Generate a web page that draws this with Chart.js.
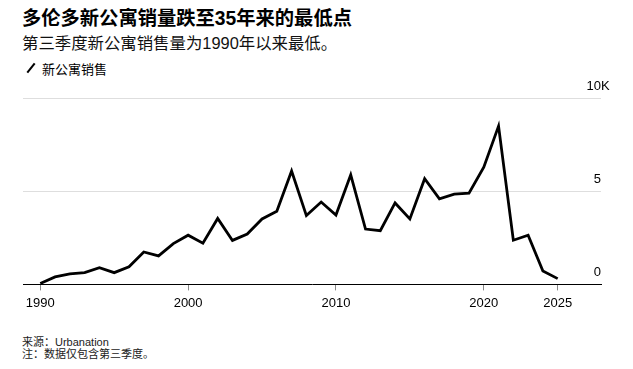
<!DOCTYPE html>
<html>
<head>
<meta charset="utf-8">
<script src="https://cdn.jsdelivr.net/npm/chart.js@4.4.1/dist/chart.umd.min.js"></script>
<style>
  body { margin: 0; width: 633px; height: 369px; background: #fff; position: relative; overflow: hidden;
         font-family: "Liberation Sans", "Noto Sans CJK SC", sans-serif; color: #000; }
  .t { position: absolute; left: 22px; white-space: nowrap; }
  #title { top: 9px; font-size: 19.3px; line-height: 19px; font-weight: bold; }
  #subtitle { top: 35px; font-size: 16.4px; line-height: 16px; color: #111; }
  #legend { top: 63px; left: 42px; font-size: 13px; line-height: 13px; }
  #legendIcon { position: absolute; left: 25px; top: 67px; width: 12px; height: 2px; background: #000; transform: rotate(-52deg); }
  #footer { top: 336px; font-size: 11px; line-height: 12px; color: #222; }
  #wrap { position: absolute; left: 0; top: 80px; width: 633px; height: 240px; }
</style>
</head>
<body>
<div class="t" id="title">多伦多新公寓销量跌至35年来的最低点</div>
<div class="t" id="subtitle">第三季度新公寓销售量为1990年以来最低。</div>
<div id="legendIcon"></div>
<div class="t" id="legend">新公寓销售</div>
<div id="wrap"><canvas id="salesChart"></canvas></div>
<div class="t" id="footer">来源：Urbanation<br>注：数据仅包含第三季度。</div>
<script>
const years = [1990, 1991, 1992, 1993, 1994, 1995, 1996, 1997, 1998, 1999,
               2000, 2001, 2002, 2003, 2004, 2005, 2006, 2007, 2008, 2009,
               2010, 2011, 2012, 2013, 2014, 2015, 2016, 2017, 2018, 2019,
               2020, 2021, 2022, 2023, 2024, 2025];
const sales = [50, 400, 560, 630, 900, 630, 950, 1740, 1530, 2190,
               2640, 2210, 3540, 2360, 2700, 3510, 3920, 6080, 3690, 4420,
               3720, 5880, 2970, 2880, 4370, 3510, 5670, 4590, 4840, 4890,
               6290, 8490, 2370, 2640, 720, 310];
const xTicks = [1990, 2000, 2010, 2020, 2025];
const yTicks = [0, 5000, 10000];
const yTickLabels = ['0', '5', '10K'];

Chart.defaults.font.family = '"Liberation Sans", Arial, sans-serif';
Chart.defaults.font.size = 13;
Chart.defaults.color = '#000';

// y labels sit above the gridlines, numbers right aligned, "K" hangs past the edge
const yLabels = {
    id: 'yLabels',
    afterDraw(chart) {
        const ctx = chart.ctx;
        const y = chart.scales.y;
        const right = chart.chartArea.right;
        ctx.save();
        ctx.font = '13px "Liberation Sans", Arial, sans-serif';
        ctx.fillStyle = '#000';
        ctx.textBaseline = 'alphabetic';
        yTicks.forEach((v, i) => {
            const py = y.getPixelForValue(v) - 8;
            const lab = yTickLabels[i];
            const num = lab.replace(/K$/, '');
            ctx.textAlign = 'right';
            ctx.fillText(num, right, py);
            if (num !== lab) {
                ctx.textAlign = 'left';
                ctx.fillText('K', right, py);
            }
        });
        ctx.restore();
    }
};

const ctxSales = document.getElementById('salesChart').getContext('2d');
const salesChart = new Chart(ctxSales, {
    type: 'line',
    data: {
        datasets: [{
            label: '新公寓销售',
            data: years.map((yr, i) => ({ x: yr, y: sales[i] })),
            borderColor: '#000',
            borderWidth: 2.8,
            pointRadius: 0,
            tension: 0,
            fill: false
        }]
    },
    options: {
        responsive: true,
        maintainAspectRatio: false,
        animation: false,
        layout: { padding: { left: 23, right: 32, top: 18, bottom: 4 } },
        scales: {
            x: {
                type: 'linear',
                min: 1988.83,
                max: 2027.93,
                afterBuildTicks: s => { s.ticks = xTicks.map(v => ({ value: v })); },
                ticks: { autoSkip: false, maxRotation: 0, padding: 5, callback: v => String(v) },
                grid: { drawOnChartArea: false, tickLength: 6, tickColor: '#888', tickWidth: 1 },
                border: { color: '#000', width: 1 }
            },
            y: {
                position: 'right',
                min: 0,
                max: 10000,
                afterBuildTicks: s => { s.ticks = yTicks.map(v => ({ value: v })); },
                afterFit: s => { s.width = 0; },
                ticks: { display: false },
                grid: { color: '#dedede', lineWidth: 1, drawTicks: false },
                border: { display: false }
            }
        },
        plugins: {
            legend: { display: false },
            tooltip: { enabled: false }
        }
    },
    plugins: [yLabels]
});
</script>
</body>
</html>
